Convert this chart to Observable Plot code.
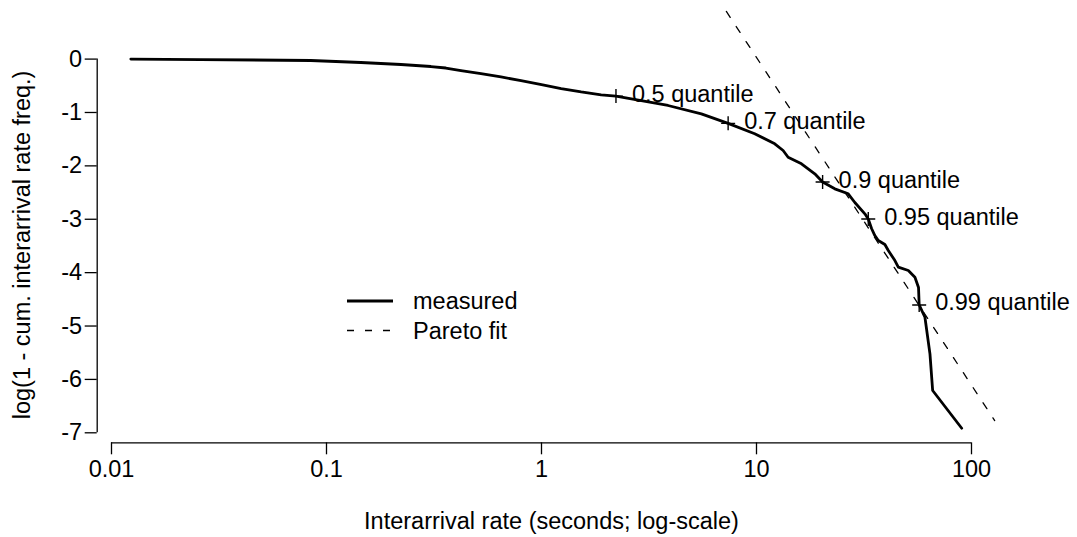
<!DOCTYPE html>
<html>
<head>
<meta charset="utf-8">
<script src="https://cdn.jsdelivr.net/npm/d3@7"></script>
<script src="https://cdn.jsdelivr.net/npm/@observablehq/plot@0.6"></script>
<style>
  html, body { margin: 0; padding: 0; background: #fff; }
  #chart { width: 1077px; height: 537px; }
</style>
</head>
<body>
<div id="chart"></div>
<script>
// Axis ticks
const xTicks = [0.01, 0.1, 1, 10, 100];
const xTickLabels = ["0.01", "0.1", "1", "10", "100"];
const yTicks = [-7, -6, -5, -4, -3, -2, -1, 0];

// Measured curve: interarrival rate (s) vs log(1 - cumulative frequency)
const measuredX = [0.0123, 0.026, 0.0845, 0.1445, 0.222, 0.306, 0.359, 0.422, 0.523, 0.648,
  0.803, 1.0, 1.234, 1.529, 1.895, 2.22, 2.91, 3.876, 5.54, 7.38,
  9.81, 12.16, 13.30, 14.03, 16.19, 18.67, 20.3, 23.13, 26.71, 28.67,
  31.92, 33.1, 34.29, 35.52, 36.85, 39.55, 41.02, 44.03, 45.66, 50.83,
  54.56, 56.7, 57.1, 60.73, 64.09, 65.97, 90.04];
const measuredY = [0, -0.008, -0.026, -0.064, -0.101, -0.139, -0.167, -0.214, -0.270, -0.335,
  -0.401, -0.476, -0.551, -0.616, -0.669, -0.693, -0.776, -0.869, -1.025, -1.204,
  -1.399, -1.587, -1.712, -1.838, -1.961, -2.149, -2.303, -2.430, -2.523, -2.686,
  -2.898, -2.996, -3.173, -3.305, -3.398, -3.473, -3.586, -3.773, -3.898, -3.960,
  -4.086, -4.279, -4.605, -4.835, -5.521, -6.208, -6.915];

// Pareto fit (straight line on the log-x scale)
const paretoX = [7.24, 128.2];
const paretoY = [0.892, -6.77];

// Marked quantiles of the measured distribution
const quantiles = [0.5, 0.7, 0.9, 0.95, 0.99];
const quantileX = [2.22, 7.38, 20.3, 33.1, 57.1];

const legendLabels = ["measured", "Pareto fit"];
const xTitle = "Interarrival rate (seconds; log-scale)";
const yTitle = "log(1 - cum. interarrival rate freq.)";

const measured = measuredX.map((x, i) => ({x, y: measuredY[i]}));
const pareto = paretoX.map((x, i) => ({x, y: paretoY[i]}));
const quant = quantiles.map((q, i) => ({q, x: quantileX[i], y: Math.log(1 - q), label: `${q} quantile`}));

// stroked "+" whose half-length equals r
const cross = {
  draw(context, size) {
    const r = Math.sqrt(size / Math.PI);
    context.moveTo(-r, 0); context.lineTo(r, 0);
    context.moveTo(0, -r); context.lineTo(0, r);
  }
};

const FONT = "'Liberation Sans', Arial, Helvetica, sans-serif";
const FS = 23.5;
const axisOffset = 14.3;

const chart = Plot.plot({
  width: 1077,
  height: 537,
  marginTop: 58.6,
  marginBottom: 94.7,
  marginLeft: 111,
  marginRight: 106,
  style: {fontFamily: FONT, fontSize: FS + "px", background: "#fff", color: "#000", overflow: "visible"},
  x: {type: "log", domain: [xTicks[0], xTicks[xTicks.length - 1]]},
  y: {domain: [yTicks[0], yTicks[yTicks.length - 1]], insetBottom: 10},
  marks: [
    // axis lines spanning the tick range
    Plot.ruleX([xTicks[0]], {y1: yTicks[0], y2: yTicks[yTicks.length - 1], dx: -axisOffset, stroke: "#000", strokeWidth: 1.3}),
    Plot.ruleY([yTicks[0]], {x1: xTicks[0], x2: xTicks[xTicks.length - 1], dy: 10, stroke: "#000", strokeWidth: 1.3}),
    Plot.axisX({ticks: xTicks, tickFormat: (d) => xTickLabels[xTicks.indexOf(d)], tickSize: 12, tickPadding: 6, strokeWidth: 1.3, label: null}),
    Plot.axisY({ticks: yTicks, tickFormat: (d) => String(d), tickSize: 12, tickPadding: 3, dx: -axisOffset, strokeWidth: 1.3, label: null}),
    Plot.text([xTitle], {text: (d) => d, frameAnchor: "bottom", textAnchor: "middle", lineAnchor: "bottom", dy: 86, dx: 10, fontSize: FS}),
    Plot.text([yTitle], {text: (d) => d, frameAnchor: "left", textAnchor: "middle", rotate: -90, lineAnchor: "middle", dx: -89, dy: -6, fontSize: FS}),
    // fit and measured curves
    Plot.line(pareto, {x: "x", y: "y", stroke: "#000", strokeWidth: 1.3, strokeDasharray: "7,11"}),
    Plot.line(measured, {x: "x", y: "y", stroke: "#000", strokeWidth: 2.8, strokeLinejoin: "round"}),
    // quantile markers and labels
    Plot.dot(quant, {x: "x", y: "y", symbol: cross, r: 7, fill: "none", stroke: "#000", strokeWidth: 1.4}),
    Plot.text(quant, {x: "x", y: "y", text: "label", textAnchor: "start", lineAnchor: "middle", dx: 16, dy: -2, fontSize: FS})
  ]
});

// legend inside the plotting area
const svg = d3.select(chart);
const lg = svg.append("g").attr("font-family", FONT).attr("font-size", FS).attr("text-anchor", "start");
const legendStyles = [{dash: null, width: 2.8}, {dash: "7,11", width: 1.3}];
legendLabels.forEach((label, i) => {
  const cy = 301 + i * 29.5;
  lg.append("line")
    .attr("x1", 347).attr("x2", 393).attr("y1", cy).attr("y2", cy)
    .attr("stroke", "#000").attr("stroke-width", legendStyles[i].width)
    .attr("stroke-dasharray", legendStyles[i].dash);
  lg.append("text").attr("x", 413).attr("y", cy).attr("dy", "0.35em").attr("fill", "#000").text(label);
});

document.getElementById("chart").appendChild(chart);
</script>
</body>
</html>
